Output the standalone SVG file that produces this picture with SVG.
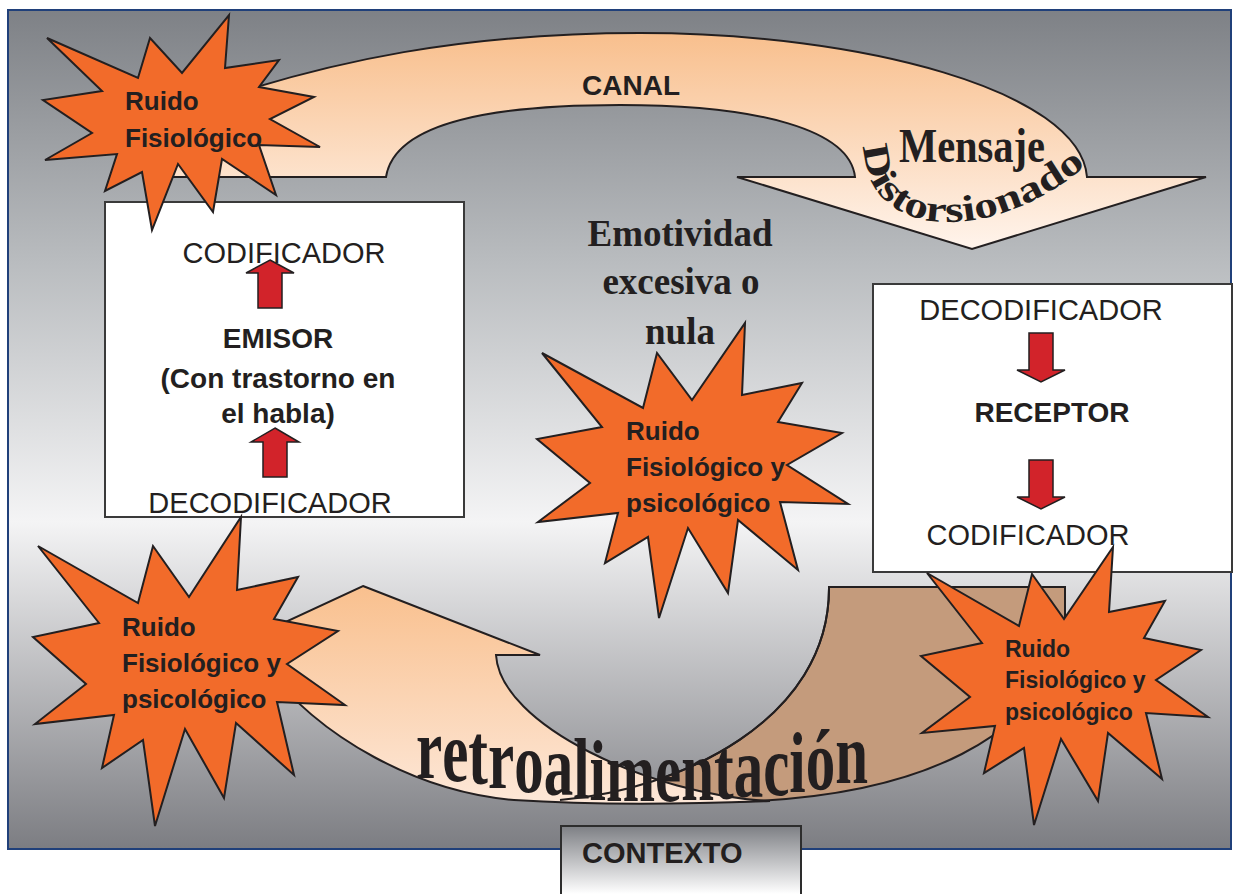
<svg xmlns="http://www.w3.org/2000/svg" width="1233" height="894" viewBox="0 0 1233 894">
<style>
.star{fill:#f26b2a;stroke:#231f20;stroke-width:2;stroke-linejoin:miter}
.st{font-family:"Liberation Sans",Arial,sans-serif;font-weight:bold;fill:#231f20}
.box{fill:#ffffff;stroke:#3a3a3a;stroke-width:2}
.reg{font-family:"Liberation Sans",Arial,sans-serif;fill:#231f20;font-size:29px}
.bld{font-family:"Liberation Sans",Arial,sans-serif;font-weight:bold;fill:#231f20;font-size:28px}
.ser{font-family:"Liberation Serif","Times New Roman",serif;font-weight:bold;fill:#231f20}
.red{fill:#d2232a;stroke:#231f20;stroke-width:1.5}
.band{stroke:#231f20;stroke-width:2;stroke-linejoin:miter}
</style>
<defs>
<linearGradient id="bg" x1="0" y1="10" x2="0" y2="849" gradientUnits="userSpaceOnUse">
<stop offset="0" stop-color="#7e8186"/>
<stop offset="0.3" stop-color="#b9bcbf"/>
<stop offset="0.61" stop-color="#f4f4f5"/>
<stop offset="1" stop-color="#7c7d82"/>
</linearGradient>
<linearGradient id="canal" x1="0" y1="33" x2="0" y2="249" gradientUnits="userSpaceOnUse">
<stop offset="0" stop-color="#f8bf8d"/>
<stop offset="1" stop-color="#fff4ec"/>
</linearGradient>
<linearGradient id="retro" x1="0" y1="586" x2="0" y2="802" gradientUnits="userSpaceOnUse">
<stop offset="0" stop-color="#f9c08e"/>
<stop offset="1" stop-color="#fde7d7"/>
</linearGradient>
<linearGradient id="ctx" x1="0" y1="826" x2="0" y2="894" gradientUnits="userSpaceOnUse">
<stop offset="0" stop-color="#7d7f84"/>
<stop offset="1" stop-color="#ffffff"/>
</linearGradient>
<path id="dpath" d="M 864,146 C 864,245 1000,245 1092,160"/>
</defs>

<g id="background">
<rect x="8" y="10" width="1223" height="839" fill="url(#bg)" stroke="#20407a" stroke-width="2"/>
</g>

<g id="connectors">
<g id="canal-arrow">
<path class="band" fill="url(#canal)" d="M 160,177 L 386,177 C 395,120 500,105 620,105 C 760,105 850,130 855,177 L 737,177 L 972,249 L 1206,177 L 1087,177 C 1080,90 860,33 640,33 C 480,33 330,55 160,120 Z"/>
<text class="st" x="582" y="95" font-size="28">CANAL</text>
<text class="ser" x="899" y="162" font-size="48" textLength="146" lengthAdjust="spacingAndGlyphs">Mensaje</text>
<text class="ser" font-size="37"><textPath href="#dpath" textLength="280" lengthAdjust="spacingAndGlyphs">Distorsionado</textPath></text>
</g>
<g id="retro-arrow">
<path class="band" fill="#c49b7c" d="M 829,587 L 1065,587 L 1065,640 C 1040,730 930,800 720,802 C 650,803 600,801 560,800 C 680,790 830,720 829,587 Z"/>
<path class="band" fill="url(#retro)" d="M 363,586 L 540,655 L 496,655 C 500,725 650,795 770,801 C 640,806 560,803 514,800 C 420,792 320,740 262,662 L 191,666 Z"/>
<path fill="none" stroke="#231f20" stroke-width="2" d="M 560,800 C 680,790 830,720 829,587"/>
<text class="ser" font-size="86" x="416" textLength="452" lengthAdjust="spacingAndGlyphs" y="778 781 784 788 792 795 798 800 801 801 800 799 797 795 792 789 783">retroalimentación</text>
</g>
</g>

<g id="emisor">
<rect class="box" x="105" y="202" width="359" height="315"/>
<text class="reg" x="284" y="263" text-anchor="middle">CODIFICADOR</text>
<polygon class="red" points="270,260 294,273 282,273 282,308 258,308 258,273 246,273"/>
<text class="bld" x="278" y="348" text-anchor="middle">EMISOR</text>
<text class="bld" x="278" y="388" text-anchor="middle">(Con trastorno en</text>
<text class="bld" x="278" y="423" text-anchor="middle">el habla)</text>
<polygon class="red" points="275,428 299,442 287,442 287,477 263,477 263,442 251,442"/>
<text class="reg" x="270" y="513" text-anchor="middle">DECODIFICADOR</text>
</g>

<g id="receptor">
<rect class="box" x="873" y="284" width="359" height="288"/>
<text class="reg" x="1041" y="320" text-anchor="middle">DECODIFICADOR</text>
<polygon class="red" points="1029,333 1053,333 1053,370 1065,370 1041,382 1017,370 1029,370"/>
<text class="bld" x="1052" y="422" text-anchor="middle" font-size="29">RECEPTOR</text>
<polygon class="red" points="1029,460 1053,460 1053,497 1065,497 1041,509 1017,497 1029,497"/>
<text class="reg" x="1028" y="545" text-anchor="middle">CODIFICADOR</text>
</g>

<g id="emotividad">
<text class="ser" font-size="37" text-anchor="middle"><tspan x="680" y="246">Emotividad</tspan><tspan x="681" y="294">excesiva o</tspan><tspan x="680" y="344">nula</tspan></text>
</g>

<g id="ruido-1">
<polygon class="star" points="229,15 225,68 279,60 259,87 314,97 270,119 320,147 259,145 276,195 222,159 213,212 178,164 152,230 142,172 105,191 117,154 45,160 92,133 43,100 102,91 47,38 138,78 150,38 182,73"/>
<text class="st" font-size="26"><tspan x="125" y="110">Ruido</tspan><tspan x="125" y="147">Fisiológico</tspan></text>
</g>

<g id="ruido-2">
<polygon class="star" points="241,517 237,590 298,577 274,619 338,631 287,664 345,705 277,702 294,775 236,723 224,798 185,729 155,826 143,740 102,768 114,715 35,724 86,684 33,637 99,623 38,546 138,603 153,546 189,597"/>
<text class="st" font-size="26"><tspan x="122" y="636">Ruido</tspan><tspan x="122" y="672">Fisiológico y</tspan><tspan x="122" y="708">psicológico</tspan></text>
</g>

<g id="ruido-3">
<polygon class="star" points="745,323 742,395 802,383 778,422 842,433 787,465 848,504 780,502 798,570 738,520 728,593 688,528 659,618 648,537 605,563 618,513 538,522 590,483 537,439 602,427 542,353 643,408 657,353 692,400"/>
<text class="st" font-size="26"><tspan x="626" y="440">Ruido</tspan><tspan x="626" y="476">Fisiológico y</tspan><tspan x="626" y="512">psicológico</tspan></text>
</g>

<g id="ruido-4">
<polygon class="star" points="1113,547 1109,612 1165,601 1144,638 1201,650 1156,680 1208,717 1146,713 1162,779 1108,733 1098,801 1061,739 1034,825 1024,748 984,773 995,726 922,733 970,697 921,656 982,643 927,573 1019,626 1032,574 1064,619"/>
<text class="st" font-size="23"><tspan x="1005" y="657">Ruido</tspan><tspan x="1005" y="688">Fisiológico y</tspan><tspan x="1005" y="720">psicológico</tspan></text>
</g>

<g id="contexto">
<rect x="561" y="826" width="240" height="75" fill="url(#ctx)" stroke="#2d2d2d" stroke-width="2"/>
<text class="st" x="582" y="863" font-size="29">CONTEXTO</text>
</g>
</svg>
